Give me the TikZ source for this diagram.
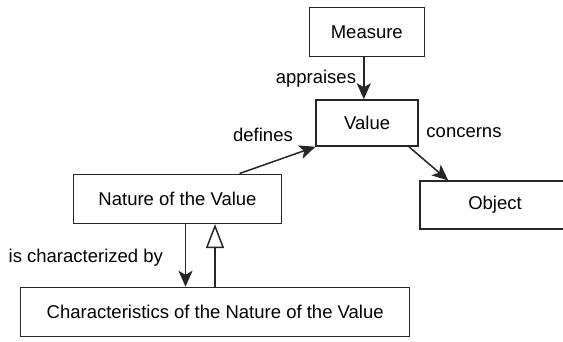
\documentclass[tikz,border=0pt]{standalone}
\usepackage{fontspec}
\setmainfont{Liberation Sans}
\usepackage{tikz}
\usetikzlibrary{arrows.meta}
\usetikzlibrary{positioning}
\tikzstyle{entity}=[rectangle, sharp corners, draw=black!85, line width=1.5pt,
  inner sep=0pt, font=\fontsize{18.5}{22}\selectfont]
\tikzstyle{role}=[inner sep=0pt, font=\fontsize{18.5}{22}\selectfont]
\tikzstyle{arrrel}=[-{Stealth[length=16pt, width=14pt, inset=4pt]}, line width=1.5pt, draw=black!85]
\tikzstyle{arrgen}=[-{Triangle[open, length=24pt, width=18pt]}, line width=1.5pt, draw=black!85]

\begin{document}
\begin{tikzpicture}[x=1pt, y=-1pt]
\useasboundingbox (0,0) rectangle (563,341);

\node[entity, minimum width=115pt, minimum height=49pt] at (366.8, 32) (measure) {Measure};
\node[entity, minimum width=102pt, minimum height=46pt] at (367.2, 123) (value) {Value};
\node[entity, minimum width=208pt, minimum height=49pt] at (177.5, 198.8) (nature) {Nature of the Value};
\node[entity, minimum width=150pt, minimum height=48pt] at (495, 205.2) (object) {Object};
\node[entity, minimum width=389pt, minimum height=49pt] at (215.2, 312) (charac)
  {Characteristics of the Nature of the Value};

\draw[arrrel] ([xshift=-3pt]measure.south) -- ([xshift=-3pt]measure.south |- value.north)
  node[role, midway, left=7pt] {appraises};
\draw[arrrel] ([xshift=62pt]nature.north) -- (value.south west);
\draw[arrrel] ([xshift=-10pt]value.south east) -- ([xshift=29pt]object.north west);
\draw[arrrel] ([xshift=8pt]nature.south) -- ([xshift=8pt]nature.south |- charac.north);
\draw[arrgen] ([xshift=37.5pt]nature.south |- charac.north) -- ([xshift=37.5pt]nature.south);

\node[role] at (263, 135) (defines) {defines};
\node[role] at (464, 133) (concerns) {concerns};
\node[role] at (85.8, 257.3) (ischar) {is characterized by};

\end{tikzpicture}
\end{document}
